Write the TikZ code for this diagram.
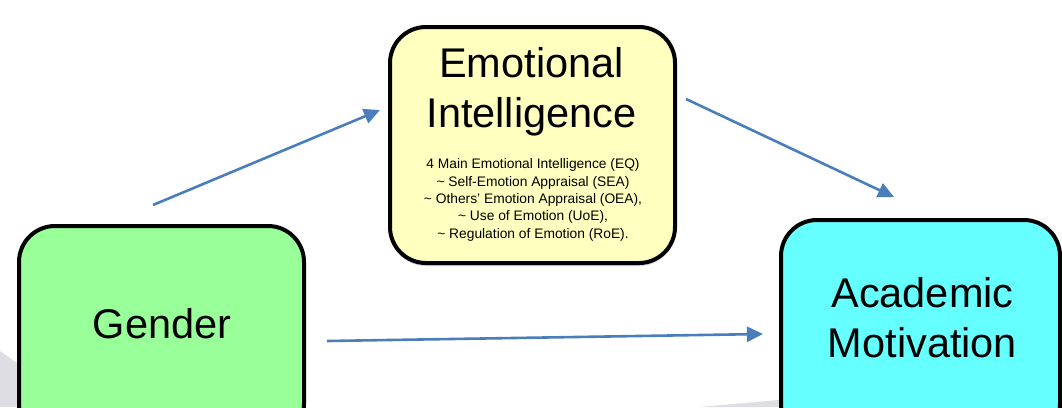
\documentclass[tikz,border=0pt]{standalone}
\usepackage{fontspec}
\setmainfont{Liberation Sans}
\usetikzlibrary{arrows.meta,shadows}

\definecolor{genderfill}{RGB}{153,255,153}
\definecolor{eqfill}{RGB}{255,255,192}
\definecolor{motivfill}{RGB}{102,255,255}
\definecolor{linkblue}{RGB}{74,126,187}
\definecolor{slidegray}{RGB}{221,221,227}

\newcommand{\boxfont}{\fontsize{41.5}{50}\selectfont}
\newcommand{\notefont}{\fontsize{13.8}{17.3}\selectfont}

\begin{document}
\begin{tikzpicture}[x=1pt,y=-1pt]
\tikzstyle{every node}=[inner sep=0pt, align=center]
\tikzstyle{factor}=[draw, line width=4pt, rounded corners=36pt,
  drop shadow={shadow xshift=0pt, shadow yshift=-3pt, fill=black!30, opacity=.6}]
\tikzstyle{link}=[draw=linkblue, line width=2.6pt, -{Triangle[length=16pt,width=15pt]}]
\useasboundingbox (0,0) rectangle (1062,407);

% faint slide shapes behind the boxes
\fill[slidegray] (0,351) -- (30,372) -- (30,407) -- (0,407) -- cycle;
\fill[slidegray] (700,407) -- (790,399) -- (790,407) -- cycle;

% the three factors
\draw (161.5,333) node (gen) [factor, fill=genderfill, minimum width=285pt, minimum height=214pt] {};
\draw (532.5,145) node (eq) [factor, fill=eqfill, minimum width=285pt, minimum height=236pt] {};
\draw (920.5,330) node (mot) [factor, fill=motivfill, minimum width=279pt, minimum height=220pt] {};

% base anchor sits on the last line
\draw (162,338) node (gentxt) [anchor=base, font=\boxfont] {Gender};
\draw (531.5,127.5) node (eqtxt) [anchor=base, font=\boxfont] {Emotional\\Intelligence};
\draw (533,238) node (eqlist) [anchor=base, font=\notefont] {4 Main Emotional Intelligence (EQ)\\
  \textasciitilde\ Self-Emotion Appraisal (SEA)\\
  \textasciitilde\ Others' Emotion Appraisal (OEA),\\
  \textasciitilde\ Use of Emotion (UoE),\\
  \textasciitilde\ Regulation of Emotion (RoE).};
\draw (922.5,357.5) node (mottxt) [anchor=base, font=\boxfont] {Academic\\Motivation};

% arrows
\coordinate (g1) at (153,205);
\coordinate (e1) at (380,110);
\coordinate (e2) at (686,99);
\coordinate (m1) at (894,197);
\coordinate (g2) at (327,341);
\coordinate (m2) at (763,334);
\draw[link] (g1) -- (e1);
\draw[link] (e2) -- (m1);
\draw[link] (g2) -- (m2);
\end{tikzpicture}
\end{document}
